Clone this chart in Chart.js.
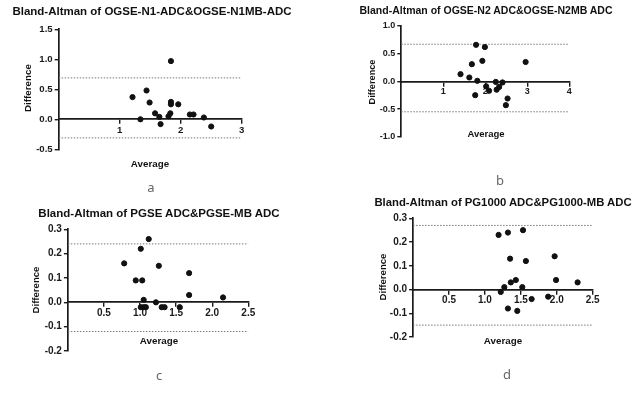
<!DOCTYPE html>
<html>
<head>
<meta charset="utf-8">
<script src="https://cdn.jsdelivr.net/npm/chart.js@4.4.1/dist/chart.umd.min.js"></script>
<style>
  body { margin: 0; background: #fff; }
  #page { position: relative; width: 640px; height: 394px; overflow: hidden; font-family: "Liberation Sans", Arial, sans-serif; }
  canvas { position: absolute; }
  .lbl { position: absolute; transform: translate(-50%, -50%); white-space: nowrap; color: #111; font-weight: bold; }
  .rot { transform: translate(-50%, -50%) rotate(-90deg); }
  .sub { font-family: "Noto Sans", sans-serif; font-weight: normal; color: #666; font-size: 13px; }
</style>
</head>
<body>
<div id="page">
  <canvas id="chartA" width="320" height="197" style="left:0;top:0"></canvas>
  <canvas id="chartB" width="320" height="197" style="left:320px;top:0"></canvas>
  <canvas id="chartC" width="320" height="197" style="left:0;top:197px"></canvas>
  <canvas id="chartD" width="320" height="197" style="left:320px;top:197px"></canvas>

  <div class="lbl" style="left:152px;top:11px;font-size:11.5px">Bland-Altman of OGSE-N1-ADC&amp;OGSE-N1MB-ADC</div>
  <div class="lbl rot" style="left:27px;top:88px;font-size:9.8px">Difference</div>
  <div class="lbl" style="left:150px;top:163px;font-size:9.8px">Average</div>
  <div class="lbl sub" style="left:151px;top:187px">a</div>

  <div class="lbl" style="left:486px;top:10px;font-size:10.5px">Bland-Altman of OGSE-N2 ADC&amp;OGSE-N2MB ADC</div>
  <div class="lbl rot" style="left:372px;top:82px;font-size:9.2px">Difference</div>
  <div class="lbl" style="left:486px;top:133px;font-size:9.5px">Average</div>
  <div class="lbl sub" style="left:500px;top:180px">b</div>

  <div class="lbl" style="left:159px;top:213px;font-size:11.5px">Bland-Altman of PGSE ADC&amp;PGSE-MB ADC</div>
  <div class="lbl rot" style="left:35px;top:290px;font-size:9.6px">Difference</div>
  <div class="lbl" style="left:159px;top:340px;font-size:9.8px">Average</div>
  <div class="lbl sub" style="left:159px;top:375px">c</div>

  <div class="lbl" style="left:503px;top:202px;font-size:11.3px">Bland-Altman of PG1000 ADC&amp;PG1000-MB ADC</div>
  <div class="lbl rot" style="left:382px;top:277px;font-size:9.6px">Difference</div>
  <div class="lbl" style="left:503px;top:340px;font-size:9.8px">Average</div>
  <div class="lbl sub" style="left:507px;top:374px">d</div>
</div>
<script>
// a: OGSE-N1
const aAvg = [1.21, 1.34, 1.44, 1.49, 1.58, 1.65, 1.67, 1.80, 1.83, 1.84, 1.84, 1.84, 1.96, 2.15, 2.21, 2.38, 2.50];
const aDiff = [0.37, 0.00, 0.48, 0.28, 0.10, 0.04, -0.08, 0.05, 0.10, 0.97, 0.29, 0.25, 0.25, 0.08, 0.08, 0.03, -0.12];
const aLimits = [0.69, -0.31];
const aXTicks = [1, 2, 3];
const aYTicks = [-0.5, 0, 0.5, 1, 1.5];

// b: OGSE-N2
const bAvg = [1.41, 1.62, 1.68, 1.78, 1.81, 1.76, 1.93, 1.99, 2.02, 2.09, 2.25, 2.27, 2.33, 2.41, 2.49, 2.53, 2.96];
const bDiff = [0.13, 0.07, 0.31, 0.66, 0.01, -0.25, 0.37, 0.62, -0.09, -0.17, -0.01, -0.15, -0.10, -0.02, -0.43, -0.31, 0.35];
const bLimits = [0.67, -0.55];
const bXTicks = [1, 2, 3, 4];
const bYTicks = [-1, -0.5, 0, 0.5, 1];

// c: PGSE
const cAvg = [0.78, 0.94, 1.01, 1.03, 1.05, 1.01, 1.05, 1.08, 1.12, 1.22, 1.26, 1.30, 1.34, 1.55, 1.68, 1.68, 2.15];
const cDiff = [0.16, 0.09, 0.22, 0.09, 0.01, -0.02, -0.02, -0.02, 0.26, 0.00, 0.15, -0.02, -0.02, -0.02, 0.12, 0.03, 0.02];
const cLimits = [0.24, -0.12];
const cXTicks = [0.5, 1, 1.5, 2, 2.5];
const cYTicks = [-0.2, -0.1, 0, 0.1, 0.2, 0.3];

// d: PG1000
const dAvg = [1.19, 1.22, 1.27, 1.32, 1.32, 1.35, 1.36, 1.43, 1.45, 1.52, 1.53, 1.57, 1.65, 1.88, 1.97, 1.99, 2.29];
const dDiff = [0.23, -0.01, 0.01, 0.24, -0.08, 0.13, 0.03, 0.04, -0.09, 0.01, 0.25, 0.12, -0.04, -0.03, 0.14, 0.04, 0.03];
const dLimits = [0.27, -0.15];
const dXTicks = [0.5, 1, 1.5, 2, 2.5];
const dYTicks = [-0.2, -0.1, 0, 0.1, 0.2, 0.3];

const axisColor = "#1a1a1a";

// box = canvas left/top on page, area = plot area [left, top, right, bottom] on page
function makePanel(id, box, area, avg, diff, limits, xTicks, yTicks, xDec, tickSize) {
  const yw = 40;
  const xMax = xTicks[xTicks.length - 1];
  const points = avg.map((x, i) => ({ x: x, y: diff[i] }));
  const font = { family: "Liberation Sans", weight: "bold", size: tickSize };

  // dotted limits of agreement
  const limitSets = limits.map((v) => ({
    data: [{ x: 0, y: v }, { x: xMax, y: v }],
    showLine: true,
    borderColor: "#7a7a7a",
    borderWidth: 1,
    borderDash: [1.5, 1.5],
    pointRadius: 0,
  }));

  const grid = { drawOnChartArea: false, drawTicks: true, tickLength: 4, color: axisColor, lineWidth: 1.4 };
  const border = { display: true, color: axisColor, width: 1.7 };

  new Chart(document.getElementById(id), {
    type: "scatter",
    data: {
      datasets: [
        { data: points, backgroundColor: "#111", borderColor: "#111", pointRadius: 2.6, pointHoverRadius: 2.6 },
        ...limitSets,
      ],
    },
    options: {
      responsive: false,
      animation: false,
      devicePixelRatio: 1,
      layout: {
        padding: {
          left: area[0] - box[0] - yw,
          top: area[1] - box[1],
          right: box[0] + 320 - area[2],
          bottom: box[1] + 197 - area[3],
        },
      },
      plugins: { legend: { display: false }, tooltip: { enabled: false } },
      scales: {
        x: {
          type: "linear",
          position: { y: 0 },
          min: 0,
          max: xMax,
          afterBuildTicks: (s) => { s.ticks = xTicks.map((v) => ({ value: v })); },
          ticks: { font, color: axisColor, padding: 1, maxRotation: 0, autoSkip: false, callback: (v) => v.toFixed(xDec) },
          grid,
          border,
        },
        y: {
          type: "linear",
          position: "left",
          min: yTicks[0],
          max: yTicks[yTicks.length - 1],
          afterBuildTicks: (s) => { s.ticks = yTicks.map((v) => ({ value: v })); },
          afterFit: (s) => { s.width = yw; },
          ticks: { font, color: axisColor, padding: 2, autoSkip: false, callback: (v) => v.toFixed(1) },
          grid,
          border,
        },
      },
    },
  });
}

makePanel("chartA", [0, 0], [58.7, 29.3, 241.7, 149.3], aAvg, aDiff, aLimits, aXTicks, aYTicks, 0, 9.6);
makePanel("chartB", [320, 0], [401.3, 26, 569.3, 136.7], bAvg, bDiff, bLimits, bXTicks, bYTicks, 0, 9);
makePanel("chartC", [0, 197], [67.9, 229.3, 248.3, 351], cAvg, cDiff, cLimits, cXTicks, cYTicks, 1, 10);
makePanel("chartD", [320, 197], [413.1, 218.3, 592.7, 337], dAvg, dDiff, dLimits, dXTicks, dYTicks, 1, 10);
</script>
</body>
</html>
